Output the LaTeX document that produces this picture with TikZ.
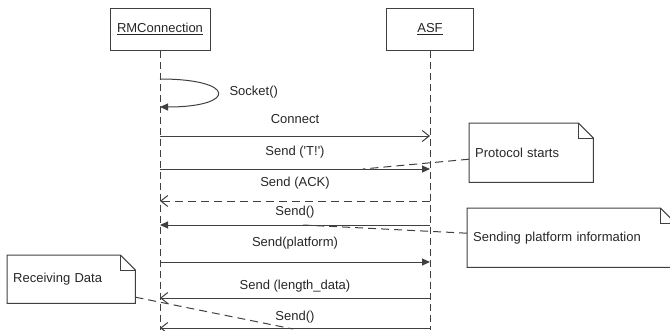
\documentclass[tikz,border=0pt]{standalone}
\usepackage{fontspec}
\setmainfont{Liberation Sans}
\usetikzlibrary{arrows.meta}
\tikzset{
	head/.style={draw=black!75, line width=1pt, minimum height=42pt, inner sep=0pt},
	lifeline/.style={draw=black!75, line width=1pt, dash pattern=on 7pt off 4pt},
	msg/.style={draw=black!75, line width=1pt},
	reply/.style={msg, dash pattern=on 8pt off 5pt},
	link/.style={draw=black!75, line width=1pt, dash pattern=on 8pt off 5pt},
	open/.style={-{Straight Barb[length=7pt,width=11pt]}},
	filled/.style={-{Triangle[length=8pt,width=7pt]}},
	notebox/.style={anchor=north west, align=left, inner xsep=6pt, inner ysep=0pt},
}
\newcommand{\dogear}[1]{
	\draw [msg] (#1.south west) -- (#1.north west) -- ([xshift=-15pt]#1.north east) -- ([yshift=-15pt]#1.north east) -- (#1.south east) -- cycle;
	\draw [msg] ([xshift=-15pt]#1.north east) |- ([yshift=-15pt]#1.north east);
}
\begin{document}
\begin{tikzpicture}[x=1pt, y=-1pt, font=\fontsize{13}{15}\selectfont, text=black!85]
	\useasboundingbox (0,0) rectangle (670,330);
	\coordinate (bottom) at (0,330);
	\node [head, minimum width=100pt] (rm) at (160,29) {\underline{RMConnection}};
	\node [head, minimum width=87pt] (asf) at (430,29) {\underline{ASF}};
	\draw [lifeline] (rm.south) -- (rm.south |- bottom);
	\draw [lifeline] (asf.south) -- (asf.south |- bottom);
	\foreach \m/\y in {s1/79, s2/107, c/136, t/169, ack/201, snd/225, pf/262, len/298, last/328} {
		\coordinate (rm-\m) at (160,\y);
		\coordinate (asf-\m) at (430,\y);
	}
	\draw [msg, filled] (rm-s1) .. controls (237,79) and (237,107) .. (rm-s2);
	\node [anchor=west] (lsocket) at (226,92) {Socket()};
	\node (lconnect) at (295,119) {Connect};
	\draw [msg, open] (rm-c) -- (asf-c);
	\node (lt) at (295,152) {Send (\textquotesingle T!\textquotesingle)};
	\draw [msg, filled] (rm-t) -- (asf-t);
	\node (lack) at (295,183) {Send (ACK)};
	\draw [reply, open] (asf-ack) -- (rm-ack);
	\node (lsend) at (295,212) {Send()};
	\draw [msg, filled] (asf-snd) -- (rm-snd);
	\node (lplat) at (295,243) {Send(platform)};
	\draw [msg, filled] (rm-pf) -- (asf-pf);
	\node (llen) at (295,286) {Send (length\_data)};
	\draw [msg, open] (asf-len) -- (rm-len);
	\node (llast) at (295,317) {Send()};
	\draw [msg, open] (asf-last) -- (rm-last);
	\node [notebox, text width=112pt, minimum height=59pt] (protocol) at (469,123) {Protocol starts};
	\dogear{protocol}
	\node [notebox, text width=196pt, minimum height=59pt] (platform) at (467,208) {Sending platform information};
	\dogear{platform}
	\node [notebox, text width=116pt, minimum height=48pt] (receiving) at (7,255) {Receiving Data};
	\dogear{receiving}
	\coordinate (ptr-t) at (363,169);
	\coordinate (ptr-snd) at (303,225);
	\coordinate (ptr-last) at (293,329);
	\draw [link] ([yshift=-6.5pt]protocol.west) -- (ptr-t);
	\draw [link] ([yshift=4.5pt]platform.west) -- (ptr-snd);
	\draw [link] ([yshift=-18pt]receiving.east) -- (ptr-last);
\end{tikzpicture}
\end{document}
